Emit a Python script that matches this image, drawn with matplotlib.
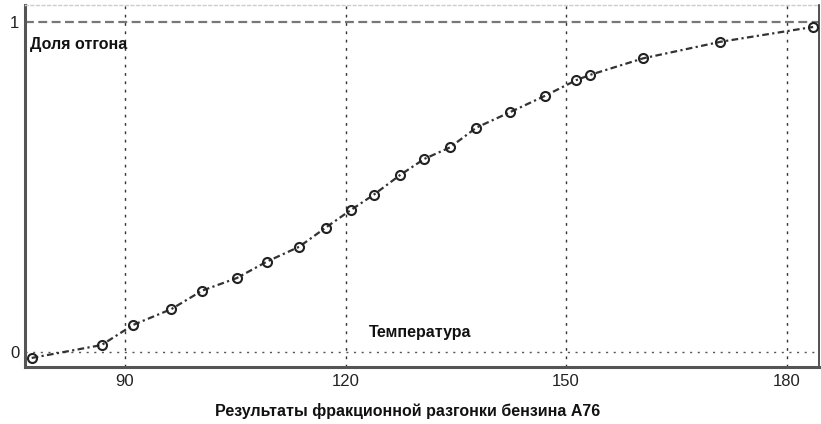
import matplotlib
matplotlib.use("Agg")
import matplotlib.pyplot as plt
from matplotlib import font_manager

names = {f.name for f in font_manager.fontManager.ttflist}
narrow = "Liberation Sans Narrow" if "Liberation Sans Narrow" in names else "Liberation Sans"
plt.rcParams['font.family'] = [narrow, 'DejaVu Sans']

# data
temperature = [77.3, 86.8, 91.1, 96.3, 100.5, 105.2, 109.3, 113.7, 117.3, 120.7,
               123.8, 127.4, 130.7, 134.2, 137.8, 142.4, 147.1, 151.4, 153.3,
               160.5, 171.0, 183.6]
fraction = [-0.018, 0.021, 0.082, 0.130, 0.186, 0.224, 0.274, 0.319, 0.377, 0.430,
            0.476, 0.536, 0.585, 0.620, 0.680, 0.727, 0.776, 0.824, 0.840,
            0.890, 0.940, 0.985]
x_ticks = [90, 120, 150, 180]
y_ticks = [0, 1]
x_label = "Температура"
y_label = "Доля отгона"
title = "Результаты фракционной разгонки бензина А76"

fig = plt.figure(figsize=(8.21, 4.24), dpi=100)
ax = fig.add_axes([25/821, 1-367/424, (819-25)/821, (367-5)/424])
ax.set_xlim(76.39, 184.4)
ax.set_ylim(-0.0455, 1.0515)

# grid lines
for xv in x_ticks:
    ax.axvline(xv, color='#333333', lw=1.0, ls=(0, (2, 4)), zorder=1)
ax.axhline(0, color='#555555', lw=1.0, ls=(0, (1.5, 4)), zorder=1)
ax.axhline(1, color='#777777', lw=1.6, ls=(0, (4, 2)), zorder=1)

ax.plot(temperature, fraction, color='#333333', lw=1.6, ls=(0, (3, 1.5, 1, 1.5)),
        marker='o', ms=6.5, mfc='none', mec='#222222', mew=1.5, zorder=3)

ax.set_xticks(x_ticks)
ax.set_xticklabels([str(v) for v in x_ticks])
ax.set_yticks(y_ticks)
ax.set_yticklabels([str(v) for v in y_ticks])
ax.tick_params(axis='both', length=0, labelsize=12, colors='#222222')
ax.tick_params(axis='x', pad=5)
ax.tick_params(axis='y', pad=4)

for s in ['left', 'bottom']:
    ax.spines[s].set_color('#555555')
    ax.spines[s].set_linewidth(2.2)
ax.spines['right'].set_color('#333333')
ax.spines['right'].set_linewidth(1.2)
ax.spines['top'].set_color('#cccccc')
ax.spines['top'].set_linewidth(1.0)
ax.spines['top'].set_linestyle((0, (2, 2)))

fig.text(30/821, 1-44/424, y_label, fontsize=11.5, fontweight='bold', color='#111111',
         ha='left', va='center')
fig.text(420/821, 1-332/424, x_label, fontsize=11.5, fontweight='bold', color='#111111',
         ha='center', va='center')
fig.text(408/821, 1-411/424, title, fontsize=11.5, fontweight='bold', color='#111111',
         ha='center', va='center')

fig.savefig("out.png", dpi=100)
